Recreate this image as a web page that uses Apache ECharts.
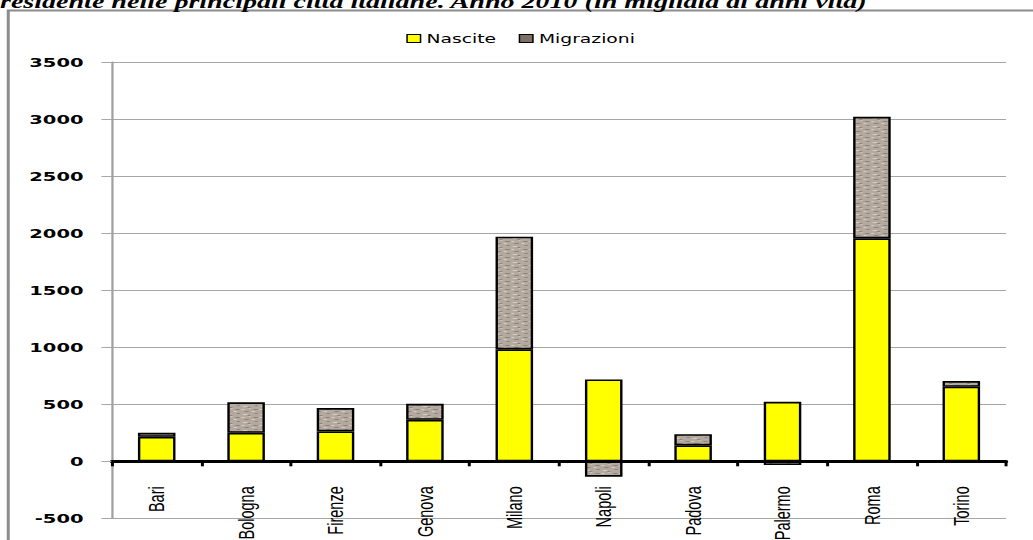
<!DOCTYPE html>
<html>
<head>
<meta charset="utf-8">
<script src="https://cdn.jsdelivr.net/npm/echarts@6/dist/echarts.min.js"></script>
<style>
  html, body { margin: 0; padding: 0; background: #fff; overflow: hidden; width: 1033px; height: 540px; }
  #chart { width: 689px; height: 540px; transform: scaleX(1.4993); transform-origin: 0 0; }
</style>
</head>
<body>
<div id="chart"></div>
<script>
const titleText = 'residente nelle principali città italiane. Anno 2010 (in migliaia di anni vita)';
const cities = ['Bari', 'Bologna', 'Firenze', 'Genova', 'Milano', 'Napoli', 'Padova', 'Palermo', 'Roma', 'Torino'];
const nascite = [215, 250, 262, 364, 982, 718, 140, 522, 1956, 654];
const migrazioni = [35, 267, 205, 140, 988, -135, 98, -33, 1066, 50];
const yTicks = [-500, 0, 500, 1000, 1500, 2000, 2500, 3000, 3500];

const GRID = { left: 74.7, right: 18, top: 62.3, bottom: 21.7 };
const H = 540;
const yMin = yTicks[0], yMax = yTicks[yTicks.length - 1];
// place the category axis where the value scale crosses zero
const plotH = H - GRID.top - GRID.bottom;
const zeroOffset = -plotH * (0 - yMin) / (yMax - yMin);

// textured fill for "Migrazioni" (fixed, hand-drawn tile)
function makeTile() {
  const c = document.createElement('canvas');
  c.width = 12; c.height = 8;
  const g = c.getContext('2d');
  g.fillStyle = '#b4a99e'; g.fillRect(0, 0, 12, 8);
  g.fillStyle = '#8e8277';
  g.fillRect(1, 1, 3, 1); g.fillRect(7, 3, 3, 1); g.fillRect(2, 5, 2, 1); g.fillRect(9, 7, 2, 1);
  g.fillStyle = '#d6cec5';
  g.fillRect(5, 1, 2, 1); g.fillRect(0, 3, 2, 1); g.fillRect(6, 6, 3, 1); g.fillRect(10, 0, 1, 1);
  return c.toDataURL();
}
const tile = makeTile();

const chart = echarts.init(document.getElementById('chart'), null, { renderer: 'svg' });
chart.setOption({
  animation: false,
  backgroundColor: '#ffffff',
  title: {
    text: titleText,
    left: 0,
    top: -8,
    padding: 0,
    textStyle: { fontFamily: 'Liberation Serif', fontStyle: 'italic', fontWeight: 'bold', fontSize: 18.7, color: '#000' }
  },
  graphic: [{
    type: 'rect',
    shape: { x: 5.5, y: 10.5, width: 800, height: 600 },
    style: { fill: 'none', stroke: '#8c8c8c', lineWidth: 2 },
    silent: true,
    z: -10
  }],
  legend: {
    left: 266,
    top: 27,
    itemWidth: 9,
    itemHeight: 8,
    itemGap: 15,
    icon: 'rect',
    textStyle: { fontFamily: 'DejaVu Sans', fontSize: 12.5, color: '#000', padding: [0, 0, 0, -1] },
    data: [
      { name: 'Nascite', itemStyle: { color: '#ffff00', borderColor: '#000', borderWidth: 1 } },
      { name: 'Migrazioni', itemStyle: { color: '#7d7167', borderColor: '#000', borderWidth: 1 } }
    ]
  },
  grid: { left: GRID.left, right: GRID.right, top: GRID.top, bottom: GRID.bottom, containLabel: false, outerBoundsMode: 'none' },
  xAxis: {
    type: 'category',
    data: cities,
    position: 'bottom',
    offset: zeroOffset,
    axisLine: { onZero: false, lineStyle: { color: '#000', width: 3 } },
    axisTick: { show: true, length: 5, lineStyle: { color: '#000', width: 2 } },
    axisLabel: { rotate: 90, margin: 25, fontFamily: 'Liberation Sans', fontSize: 14.5, color: '#000', interval: 0 },
    splitLine: { show: false }
  },
  yAxis: {
    type: 'value',
    min: yMin,
    max: yMax,
    interval: 500,
    axisLine: { show: true, lineStyle: { color: '#a0a0a0', width: 1.5 } },
    axisTick: { show: true, length: 7, lineStyle: { color: '#a6a6a6' } },
    axisLabel: { margin: 19, fontFamily: 'DejaVu Sans', fontWeight: 'bold', fontSize: 13, color: '#000', formatter: v => String(v) },
    splitLine: { show: true, lineStyle: { color: '#a6a6a6', width: 1 } }
  },
  series: [
    {
      name: 'Nascite',
      type: 'bar',
      stack: 'tot',
      barWidth: '42%',
      data: nascite,
      itemStyle: { color: '#ffff00', borderColor: '#000', borderWidth: 1.6 }
    },
    {
      name: 'Migrazioni',
      type: 'bar',
      stack: 'tot',
      barWidth: '42%',
      data: migrazioni,
      itemStyle: { color: { image: tile, repeat: 'repeat' }, borderColor: '#000', borderWidth: 1.6 }
    }
  ]
});
</script>
</body>
</html>
